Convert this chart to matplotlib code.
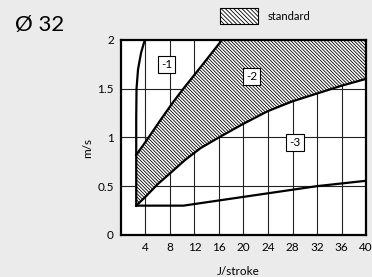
import matplotlib
matplotlib.use('Agg')
import matplotlib.pyplot as plt
from matplotlib.patches import Rectangle

plt.rcParams['font.family'] = ['Lato', 'DejaVu Sans']
plt.rcParams['hatch.linewidth'] = 0.6

# curve -1 (left limit)
c1_x = [2.5, 2.5, 2.55, 2.8, 3.3, 3.9, 40]
c1_y = [0.3, 1.2, 1.5, 1.7, 1.87, 2.0, 2.0]
# upper edge of the standard zone (-1 / -2)
up_x = [2.5, 4.2, 6.7, 8.5, 10.2, 13.5, 16.5]
up_y = [0.82, 0.97, 1.2, 1.36, 1.5, 1.76, 2.0]
# lower edge of the standard zone (-2 / -3)
lo_x = [2.5, 4, 6, 8, 10.5, 13, 16, 20, 24, 28, 32, 36, 40]
lo_y = [0.3, 0.39, 0.52, 0.63, 0.77, 0.89, 1.0, 1.14, 1.27, 1.37, 1.45, 1.53, 1.6]
# bottom limit
c3_x = [2.5, 10.2, 20, 32, 40]
c3_y = [0.3, 0.3, 0.39, 0.5, 0.555]

zones = ['-1', '-2', '-3']
zone_x = [7.5, 21.3, 28.4]
zone_y = [1.75, 1.62, 0.95]

xticks = [4, 8, 12, 16, 20, 24, 28, 32, 36, 40]
yticks = [0, 0.5, 1, 1.5, 2]
ytick_labels = ['0', '0.5', '1', '1.5', '2']

bg = '#ebebeb'
fig = plt.figure(figsize=(3.72, 2.77), dpi=100, facecolor=bg)
ax = fig.add_axes([0.325, 0.152, 0.659, 0.704])
ax.set_xlim(0, 40)
ax.set_ylim(0, 2)

for x in xticks:
    ax.axvline(x, color='#222222', lw=0.8, zorder=1)
for y in yticks[1:-1]:
    ax.axhline(y, color='#222222', lw=0.8, zorder=1)

# hatched standard zone
hatch = '\\' * 10
poly_x = up_x + [40, 40] + lo_x[::-1]
poly_y = up_y + [2.0, lo_y[-1]] + lo_y[::-1]
ax.fill(poly_x, poly_y, facecolor='white', edgecolor='black',
        hatch=hatch, lw=0, zorder=2)

ax.plot(c1_x, c1_y, color='black', lw=1.6, zorder=3)
ax.plot(up_x, up_y, color='black', lw=1.6, zorder=3)
ax.plot(lo_x, lo_y, color='black', lw=1.6, zorder=3)
ax.plot(c3_x, c3_y, color='black', lw=1.6, zorder=3)

for lab, x, y in zip(zones, zone_x, zone_y):
    ax.text(x, y, lab, ha='center', va='center', fontsize=8.5, zorder=4,
            bbox=dict(boxstyle='square,pad=0.25', fc='white', ec='black', lw=0.8))

ax.set_xticks(xticks)
ax.set_yticks(yticks)
ax.set_yticklabels(ytick_labels)
ax.tick_params(length=0, labelsize=8.5, pad=5)
for s in ax.spines.values():
    s.set_linewidth(1.6)
ax.set_xlabel('J/stroke', fontsize=8.5)
ax.xaxis.set_label_coords(0.48, -0.16)
ax.set_ylabel('m/s', fontsize=8.5)
ax.yaxis.set_label_coords(-0.114, 0.446)

fig.text(0.04, 0.91, 'Ø 32', fontsize=16, ha='left', va='center')

leg = Rectangle((220 / 372, 1 - 24 / 277), 38 / 372, 15.5 / 277,
                transform=fig.transFigure, facecolor='white', edgecolor='black',
                hatch='\\' * 8, lw=0.8)
fig.patches.append(leg)
fig.text(268 / 372, 1 - 16.5 / 277, 'standard', fontsize=8, ha='left', va='center')

fig.savefig('out.png', dpi=100, facecolor=bg)
